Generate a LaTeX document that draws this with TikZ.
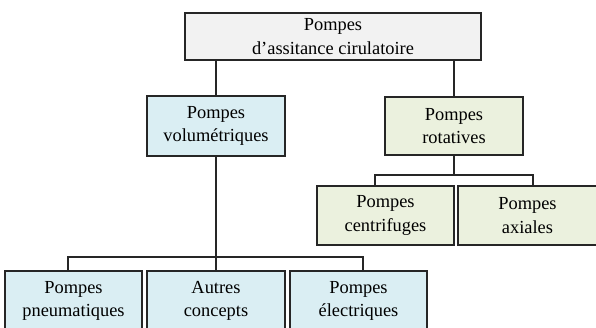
\documentclass[tikz,border=0pt]{standalone}
\usepackage{fontspec}
\setmainfont{Liberation Serif}
\definecolor{topfill}{HTML}{F2F2F2}
\definecolor{bluefill}{HTML}{DAEEF3}
\definecolor{greenfill}{HTML}{EBF1DE}
\definecolor{edge}{HTML}{262626}
\begin{document}
\begin{tikzpicture}[x=1pt,y=-1pt,
  box/.style={draw=edge, line width=1.1pt, rectangle, inner sep=0pt, align=center,
    font=\fontsize{18.4}{23.5}\selectfont},
  bluebox/.style={box, fill=bluefill, minimum width=137pt, minimum height=60pt},
  greenbox/.style={box, fill=greenfill, minimum width=137pt, minimum height=59pt},
  link/.style={draw=edge, line width=1.1pt}]
\clip (0,0) rectangle (596,328);
\node[box, fill=topfill, minimum width=296pt, minimum height=47pt] (top) at (333,36.5) {Pompes\\d’assitance cirulatoire};
\node[bluebox, minimum width=138pt] (vol) at (216,126) {Pompes\\volumétriques};
\node[greenbox, minimum width=138pt, minimum height=58pt] (rot) at (454,126) {Pompes\\rotatives};
\node[greenbox] (cent) at (385.5,215.5) {Pompes\\centrifuges};
\node[greenbox, minimum width=139pt] (axi) at (527.5,215.5) {Pompes\\axiales};
\node[bluebox] (pneu) at (73.5,301) {Pompes\\pneumatiques};
\node[bluebox, minimum width=138pt] (autres) at (216,301) {Autres\\concepts};
\node[bluebox] (elec) at (358.5,301) {Pompes\\électriques};
\coordinate (rbL) at (375,175);
\coordinate (rbR) at (533,175);
\coordinate (bbL) at (68,257);
\coordinate (bbR) at (363,257);
\draw[link] (vol.north |- top.south) -- (vol.north);
\draw[link] (rot.north |- top.south) -- (rot.north);
\draw[link] (rot.south) -- (rot.south |- rbL);
\draw[link] (cent.north -| rbL) -- (rbL) -- (rbR) -- (axi.north -| rbR);
\draw[link] (vol.south) -- (autres.north);
\draw[link] (pneu.north -| bbL) -- (bbL) -- (bbR) -- (elec.north -| bbR);
\end{tikzpicture}
\end{document}
